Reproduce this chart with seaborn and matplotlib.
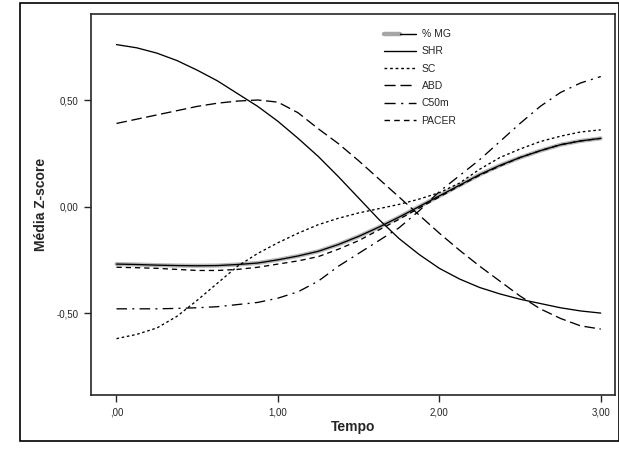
import numpy as np
import pandas as pd
import matplotlib
matplotlib.use('Agg')
import matplotlib.pyplot as plt
import seaborn as sns
from matplotlib.legend_handler import HandlerTuple
from matplotlib.lines import Line2D

# time points (every 0.125)
tempo = [0, 0.125, 0.25, 0.375, 0.5, 0.625, 0.75, 0.875, 1.0, 1.125, 1.25, 1.375, 1.5,
         1.625, 1.75, 1.875, 2.0, 2.125, 2.25, 2.375, 2.5, 2.625, 2.75, 2.875, 3.0]

# mean z-score per variable
mg = [-0.27, -0.272, -0.275, -0.277, -0.278, -0.277, -0.272, -0.265, -0.25, -0.232, -0.21, -0.178, -0.14,
      -0.097, -0.05, 0.0, 0.05, 0.10, 0.15, 0.193, 0.23, 0.262, 0.29, 0.308, 0.32]
shr = [0.76, 0.745, 0.72, 0.685, 0.64, 0.59, 0.53, 0.47, 0.40, 0.32, 0.235, 0.14, 0.04,
       -0.06, -0.15, -0.225, -0.29, -0.34, -0.38, -0.41, -0.435, -0.455, -0.475, -0.49, -0.50]
sc = [-0.62, -0.60, -0.57, -0.515, -0.44, -0.36, -0.28, -0.22, -0.17, -0.125, -0.085, -0.055, -0.03,
      -0.01, 0.01, 0.035, 0.065, 0.11, 0.175, 0.23, 0.27, 0.305, 0.33, 0.35, 0.36]
abd = [0.39, 0.41, 0.43, 0.45, 0.47, 0.485, 0.495, 0.50, 0.49, 0.44, 0.365, 0.295, 0.215,
       0.13, 0.045, -0.04, -0.125, -0.205, -0.28, -0.35, -0.42, -0.48, -0.525, -0.56, -0.575]
c50m = [-0.48, -0.48, -0.48, -0.478, -0.475, -0.47, -0.46, -0.45, -0.43, -0.40, -0.35, -0.28, -0.22,
        -0.16, -0.10, -0.02, 0.07, 0.145, 0.22, 0.305, 0.39, 0.47, 0.535, 0.58, 0.61]
pacer = [-0.285, -0.287, -0.29, -0.295, -0.30, -0.30, -0.295, -0.285, -0.27, -0.255, -0.235, -0.20, -0.16,
         -0.11, -0.06, -0.007, 0.045, 0.097, 0.147, 0.19, 0.23, 0.262, 0.29, 0.308, 0.32]

series = {'% MG': mg, 'SHR': shr, 'SC': sc, 'ABD': abd, 'C50m': c50m, 'PACER': pacer}

# long format table for seaborn
df = pd.concat([pd.DataFrame({'Tempo': tempo, 'Z': v, 'Var': k}) for k, v in series.items()])

sns.set_style('ticks')
plt.rcParams['font.family'] = ['Liberation Sans', 'DejaVu Sans']

fig = plt.figure(figsize=(6.19, 4.49), dpi=100)
ax = fig.add_axes([0.147, 0.12, 0.847, 0.849])

# outer frame of the figure
fig.patches.append(plt.Rectangle((0.033, 0.018), 0.967, 0.975, transform=fig.transFigure,
                                 fill=False, edgecolor='black', linewidth=1.2))

# grey band under % MG
sns.lineplot(x=tempo, y=mg, color='0.72', linewidth=3.0, ax=ax, legend=False)

dashes = {'% MG': '', 'SHR': '', 'SC': (2, 2), 'ABD': (8, 3.5),
          'C50m': (8, 4, 1.5, 4), 'PACER': (4, 3)}
sns.lineplot(data=df, x='Tempo', y='Z', style='Var', dashes=dashes, color='black',
             linewidth=0.95, ax=ax, legend=False, estimator=None, sort=False)

ax.set_xlim(-0.158, 3.09)
ax.set_ylim(-0.885, 0.904)
ax.set_xticks([0, 1, 2, 3])
ax.set_xticklabels([',00', '1,00', '2,00', '3,00'], fontsize=7)
ax.set_yticks([-0.5, 0, 0.5])
ax.set_yticklabels(['-0,50', '0,00', '0,50'], fontsize=7)
ax.tick_params(direction='out', length=5, width=1, pad=4)
for s in ax.spines.values():
    s.set_linewidth(1.2)
ax.set_xlabel('Tempo', fontsize=10, fontweight='bold', labelpad=2)
ax.set_ylabel('Média Z-score', fontsize=10, fontweight='bold', labelpad=6)

# legend built by hand so % MG shows grey band and black line
handles = [
    (Line2D([], [], color='0.65', lw=3.2), Line2D([], [], color='black', lw=1.0)),
    Line2D([], [], color='black', lw=1.0),
    Line2D([], [], color='black', lw=1.0, dashes=(2, 2)),
    Line2D([], [], color='black', lw=1.0, dashes=(8, 3.5)),
    Line2D([], [], color='black', lw=1.0, dashes=(8, 4, 1.5, 4)),
    Line2D([], [], color='black', lw=1.0, dashes=(4, 3)),
]
ax.legend(handles, list(series.keys()), handler_map={tuple: HandlerTuple(ndivide=None, pad=0)},
          loc='upper left', bbox_to_anchor=(0.558, 0.96), frameon=False, fontsize=7.5,
          borderpad=0, borderaxespad=0,
          handlelength=3.1, labelspacing=0.7, handletextpad=0.55)

plt.savefig('out.png', dpi=100)
